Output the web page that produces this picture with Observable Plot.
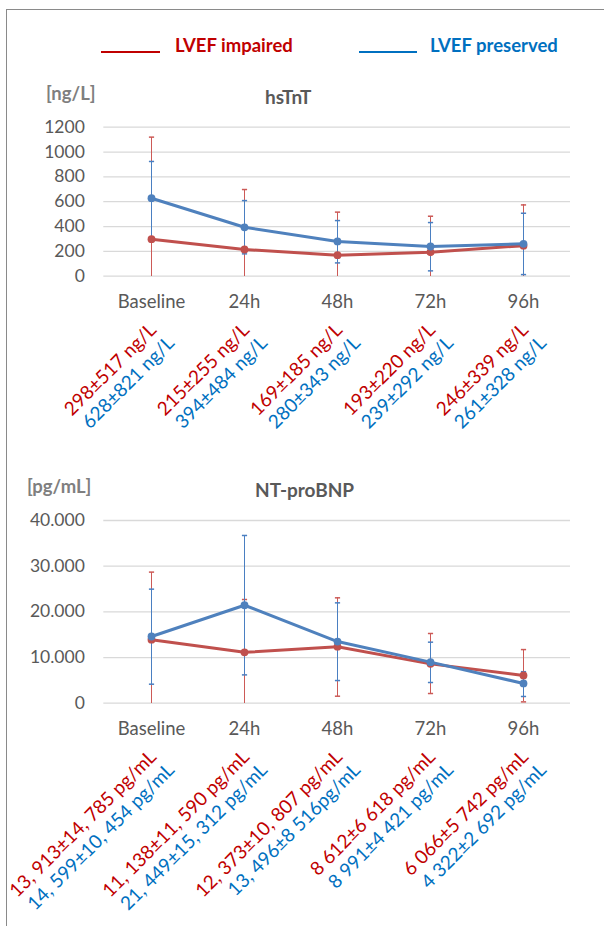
<!DOCTYPE html>
<html><head><meta charset="utf-8">
<script src="https://cdn.jsdelivr.net/npm/d3@7"></script>
<script src="https://cdn.jsdelivr.net/npm/@observablehq/plot@0.6"></script>
<style>
html,body{margin:0;padding:0;background:#fff;overflow:hidden;}
#wrap{position:relative;width:604px;height:926px;overflow:hidden;font-family:Lato,sans-serif;}
.abs{position:absolute;white-space:nowrap;line-height:1;}
#frame{position:absolute;left:6px;top:9px;width:800px;height:1000px;border-left:1.5px solid #8a8a8a;border-top:1.5px solid #8a8a8a;}
.chart{position:absolute;left:0;}
</style></head><body>
<div id="wrap">
  <div id="frame"></div>
  <div class="abs" style="left:101px;top:51px;width:59px;height:0;border-top:2px solid #c00000;"></div>
  <div class="abs" style="left:175px;top:36px;font-size:18.5px;font-weight:bold;color:#c00000;">LVEF impaired</div>
  <div class="abs" style="left:359px;top:51px;width:58px;height:0;border-top:2px solid #0070c0;"></div>
  <div class="abs" style="left:430px;top:36px;font-size:18.5px;font-weight:bold;color:#0070c0;">LVEF preserved</div>
  <div class="abs" style="left:46px;top:84px;font-size:18.5px;font-weight:bold;color:#7f7f7f;">[ng/L]</div>
  <div class="abs" style="left:265px;top:87px;font-size:19px;font-weight:bold;color:#595959;">hsTnT</div>
  <div class="abs" style="left:27px;top:477px;font-size:18.5px;font-weight:bold;color:#7f7f7f;">[pg/mL]</div>
  <div class="abs" style="left:255px;top:480px;font-size:19px;font-weight:bold;color:#595959;">NT-proBNP</div>
  <div id="c1" class="chart" style="top:110px;"></div>
  <div id="c2" class="chart" style="top:505px;"></div>
</div>
<script>
const categories = ["Baseline", "24h", "48h", "72h", "96h"];

// hsTnT [ng/L]
const tntImpairedMean = [298, 215, 169, 193, 246];
const tntImpairedHigh = [1120, 698, 516, 483, 574];
const tntImpairedLow  = [0, 0, 0, 0, 0];
const tntPreservedMean = [628, 394, 280, 239, 261];
const tntPreservedHigh = [924, 609, 448, 432, 507];
const tntPreservedLow  = [312, 180, 107, 43, 13];
const tntImpairedLabels  = ["298±517 ng/L", "215±255 ng/L", "169±185 ng/L", "193±220 ng/L", "246±339 ng/L"];
const tntPreservedLabels = ["628±821 ng/L", "394±484 ng/L", "280±343 ng/L", "239±292 ng/L", "261±328 ng/L"];
const tntTicks = [0, 200, 400, 600, 800, 1000, 1200];
const tntTickLabels = ["0", "200", "400", "600", "800", "1000", "1200"];

// NT-proBNP [pg/mL]
const bnpImpairedMean = [13913, 11138, 12373, 8612, 6066];
const bnpImpairedHigh = [28700, 22700, 23070, 15260, 11740];
const bnpImpairedLow  = [0, 0, 1530, 2120, 290];
const bnpPreservedMean = [14599, 21449, 13496, 8991, 4322];
const bnpPreservedHigh = [24970, 36720, 21970, 13360, 6900];
const bnpPreservedLow  = [4160, 6200, 4960, 4530, 1470];
const bnpImpairedLabels  = ["13, 913±14, 785 pg/mL", "11, 138±11, 590 pg/mL", "12, 373±10, 807 pg/mL", "8 612±6 618 pg/mL", "6 066±5 742 pg/mL"];
const bnpPreservedLabels = ["14, 599±10, 454 pg/mL", "21, 449±15, 312 pg/mL", "13, 496±8 516pg/mL", "8 991±4 421 pg/mL", "4 322±2 692 pg/mL"];
const bnpTicks = [0, 10000, 20000, 30000, 40000];
const bnpTickLabels = ["0", "10.000", "20.000", "30.000", "40.000"];

const RED = "#c0504d", BLUE = "#4f81bd";
const RED_BAR = "#cc5a57", BLUE_BAR = "#4a7fc1";
const RED_TEXT = "#c00000", BLUE_TEXT = "#0070c0";

const capSymbol = {
  draw(context, size) {
    const w = Math.sqrt(size / Math.PI);
    context.moveTo(-w, 0);
    context.lineTo(w, 0);
  }
};

function rows(mean, hi, lo, labels) {
  return categories.map((c, i) => ({cat: c, mean: mean[i], hi: hi[i], lo: lo[i], label: labels[i]}));
}

function barMarks(data, color) {
  return [
    Plot.ruleX(data, {x: "cat", y1: "lo", y2: "hi", stroke: color, strokeWidth: 1.6, shapeRendering: "crispEdges"}),
    Plot.dot(data, {x: "cat", y: "hi", symbol: capSymbol, r: 2.6, stroke: color, strokeWidth: 1.5, fill: "none"}),
    Plot.dot(data.filter(d => d.lo > 0), {x: "cat", y: "lo", symbol: capSymbol, r: 2.6, stroke: color, strokeWidth: 1.5, fill: "none"})
  ];
}

function lineMarks(data, color, textColor, dx, dy) {
  return [
    Plot.line(data, {x: "cat", y: "mean", stroke: color, strokeWidth: 3}),
    Plot.dot(data, {x: "cat", y: "mean", fill: color, r: 3.9}),
    Plot.text(data, {x: "cat", text: "label", frameAnchor: "bottom", rotate: -45, textAnchor: "end", lineAnchor: "bottom", dx, dy, fill: textColor, fontSize: 19})
  ];
}

function makeChart(opts) {
  const labelMap = new Map(opts.ticks.map((t, i) => [t, opts.tickLabels[i]]));
  return Plot.plot({
    width: 604,
    height: opts.height,
    marginLeft: 103.3,
    marginRight: 34,
    marginTop: opts.marginTop,
    marginBottom: opts.marginBottom,
    style: {fontFamily: "Lato, sans-serif", background: "transparent", overflow: "visible"},
    x: {type: "point", domain: categories, padding: 0.5},
    y: {domain: opts.domain},
    marks: [
      Plot.gridY(opts.ticks, {stroke: "#d9d9d9", strokeOpacity: 1, strokeWidth: 1.3}),
      Plot.axisY(opts.ticks, {tickSize: 0, tickPadding: 19, tickFormat: d => labelMap.get(d), fontSize: 17.5, fill: "#595959", label: null}),
      Plot.axisX({tickSize: 0, tickPadding: 19, fontSize: 18.5, fill: "#595959", label: null}),
      ...barMarks(opts.red, RED_BAR),
      ...barMarks(opts.blue, BLUE_BAR),
      ...lineMarks(opts.red, RED, RED_TEXT, 6, 55),
      ...lineMarks(opts.blue, BLUE, BLUE_TEXT, 24, 68)
    ]
  });
}

document.getElementById("c1").appendChild(makeChart({
  height: 340, marginTop: 16.7, marginBottom: 174.3,
  domain: [0, 1200], ticks: tntTicks, tickLabels: tntTickLabels,
  red: rows(tntImpairedMean, tntImpairedHigh, tntImpairedLow, tntImpairedLabels),
  blue: rows(tntPreservedMean, tntPreservedHigh, tntPreservedLow, tntPreservedLabels)
}));

document.getElementById("c2").appendChild(makeChart({
  height: 421, marginTop: 15, marginBottom: 223.3,
  domain: [0, 40000], ticks: bnpTicks, tickLabels: bnpTickLabels,
  red: rows(bnpImpairedMean, bnpImpairedHigh, bnpImpairedLow, bnpImpairedLabels),
  blue: rows(bnpPreservedMean, bnpPreservedHigh, bnpPreservedLow, bnpPreservedLabels)
}));
</script>
</body></html>
